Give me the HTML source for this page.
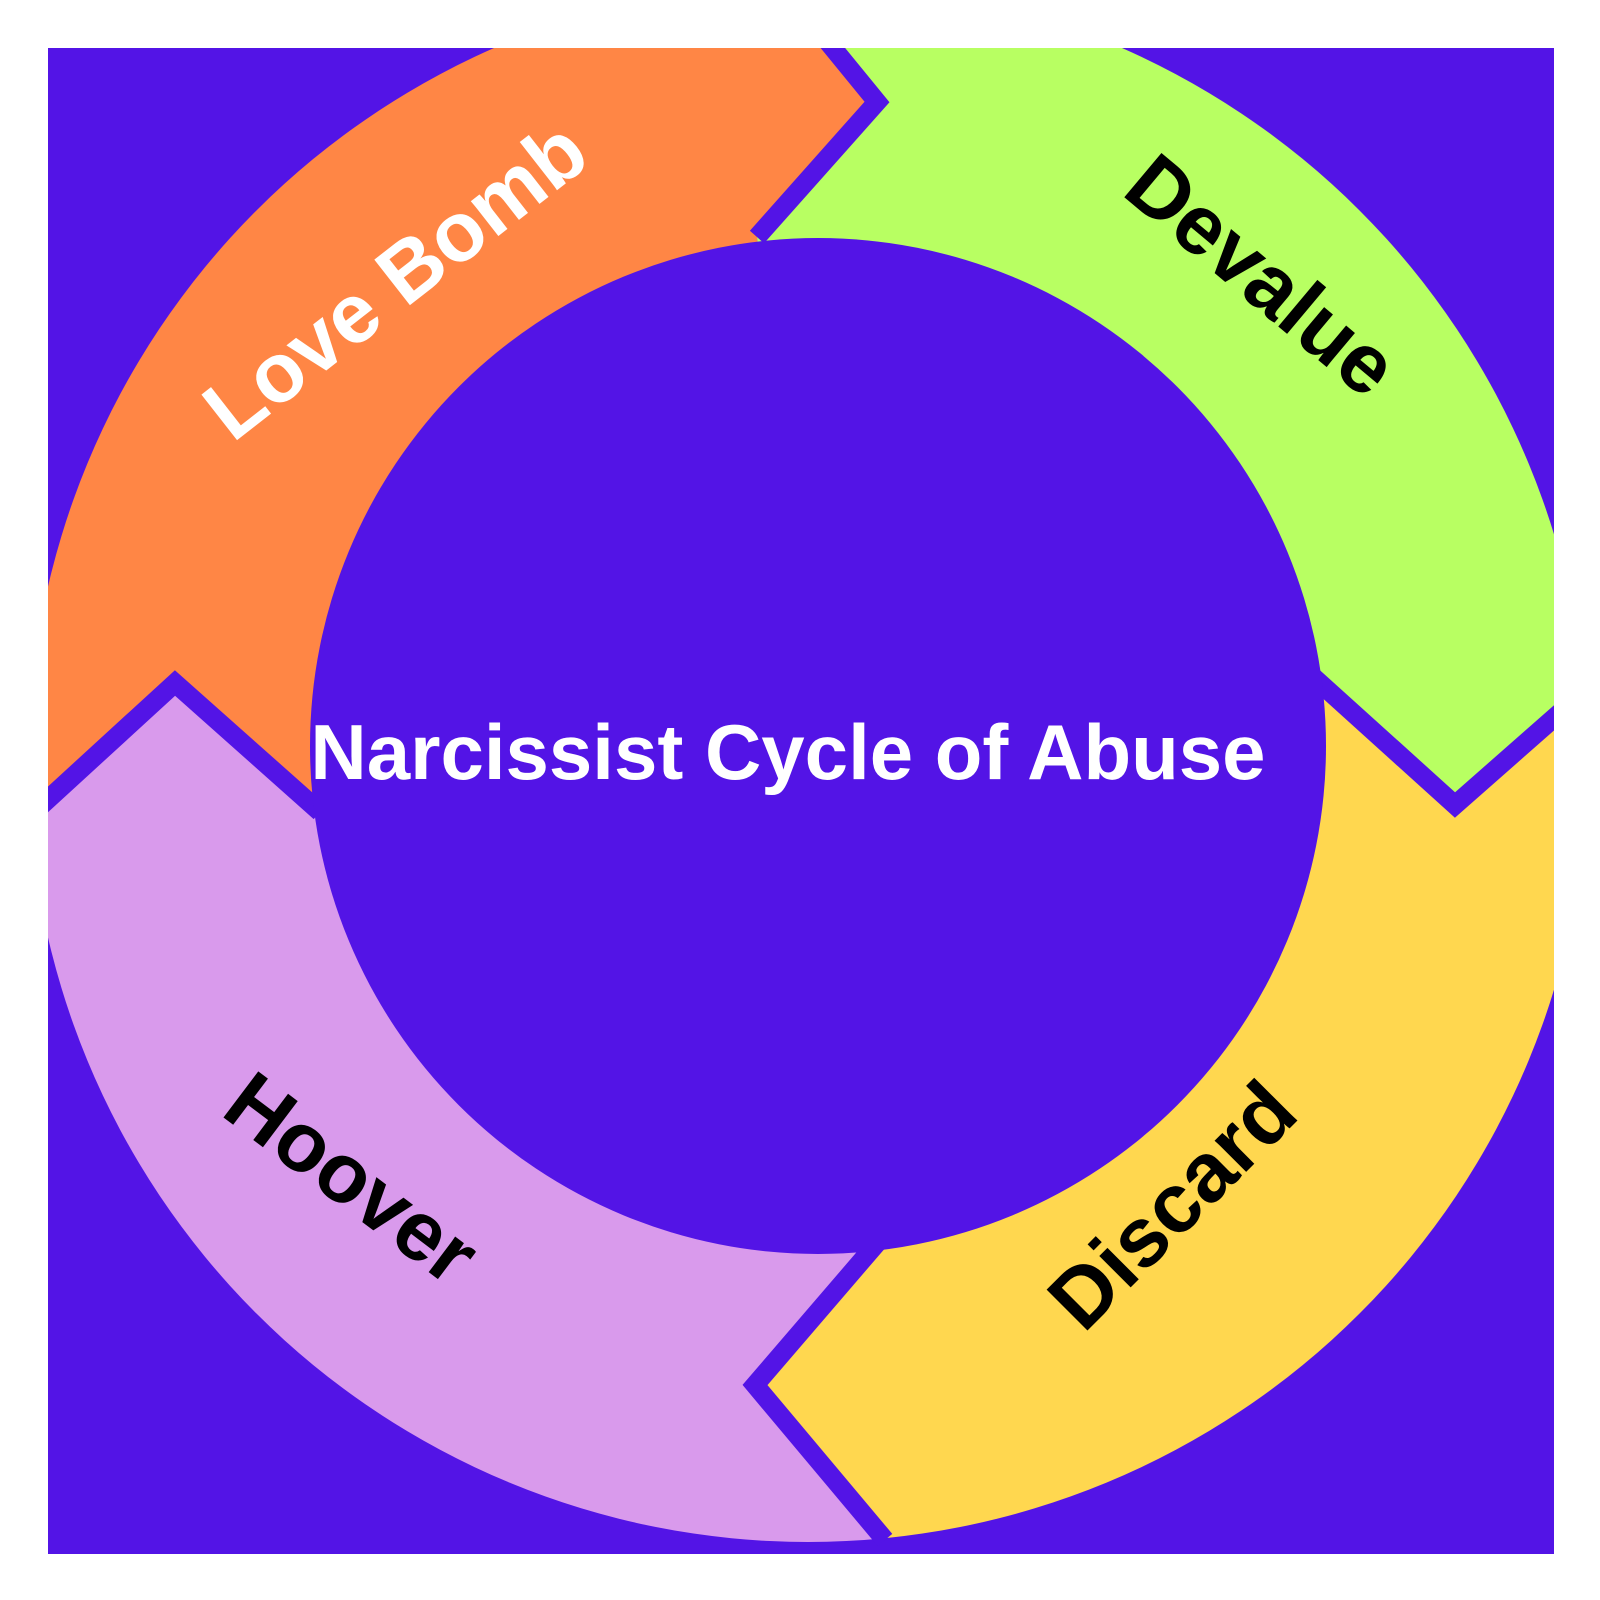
<!DOCTYPE html>
<html><head><style>html,body{margin:0;padding:0;background:#fff}svg{display:block}
.t{position:absolute;font-family:"Liberation Sans",sans-serif;font-weight:bold;font-size:84px;white-space:nowrap;line-height:1;width:600px;text-align:center;margin-left:-300px;margin-top:-42px}
</style></head>
<body>
<div style="position:relative;width:1600px;height:1600px">
<svg width="1600" height="1600" viewBox="0 0 1600 1600" xmlns="http://www.w3.org/2000/svg" style="position:absolute;left:0;top:0">
<defs>
<clipPath id="sq"><rect x="48" y="48" width="1506" height="1506"/></clipPath>
<clipPath id="ring"><circle cx="808" cy="762" r="780"/></clipPath>
</defs>
<rect width="1600" height="1600" fill="#fff"/>
<g clip-path="url(#sq)">
<rect x="48" y="48" width="1506" height="1506" fill="#5314E6"/>
<g clip-path="url(#ring)">
<polygon fill="#FF8645" points="0,0 800,0 877,102 757,237 810,760 310,803 175,683 0,830"/>
<polygon fill="#B8FF62" points="800,0 1600,0 1600,700 1554,720 1455,805 1320,685 810,760 757,237 877,102"/>
<polygon fill="#FFD74F" points="1600,700 1600,1600 880,1600 873,1520 755,1385 877,1243 810,760 1320,685 1455,805 1554,720"/>
<polygon fill="#D99AEC" points="0,830 175,683 310,803 810,760 877,1243 755,1385 873,1520 880,1600 0,1600"/>
</g>
<g fill="none" stroke="#5314E6" stroke-width="19" stroke-linejoin="miter">
<polyline points="810,20 877,102 757,237"/>
<polyline points="1300,665 1455,805 1580,695"/>
<polyline points="877,1243 755,1385 885,1540"/>
<polyline points="20,825 175,683 320,812"/>
</g>
<circle cx="818" cy="746" r="508" fill="#5314E6"/>
</g>
</svg>
<div class="t" style="left:395px;top:280px;color:#fff;transform:rotate(-38deg)">Love Bomb</div>
<div class="t" style="left:1262px;top:275px;color:#000;transform:rotate(40deg)">Devalue</div>
<div class="t" style="left:1172px;top:1205px;color:#000;transform:rotate(-45deg)">Discard</div>
<div class="t" style="left:352px;top:1178px;color:#000;transform:rotate(37deg)">Hoover</div>
<div style="position:absolute;left:268px;top:713px;width:1040px;text-align:center;color:#fff;font-family:'Liberation Sans',sans-serif;font-weight:bold;font-size:78px;line-height:1;white-space:nowrap">Narcissist Cycle of Abuse</div>
</div>
</body></html>
